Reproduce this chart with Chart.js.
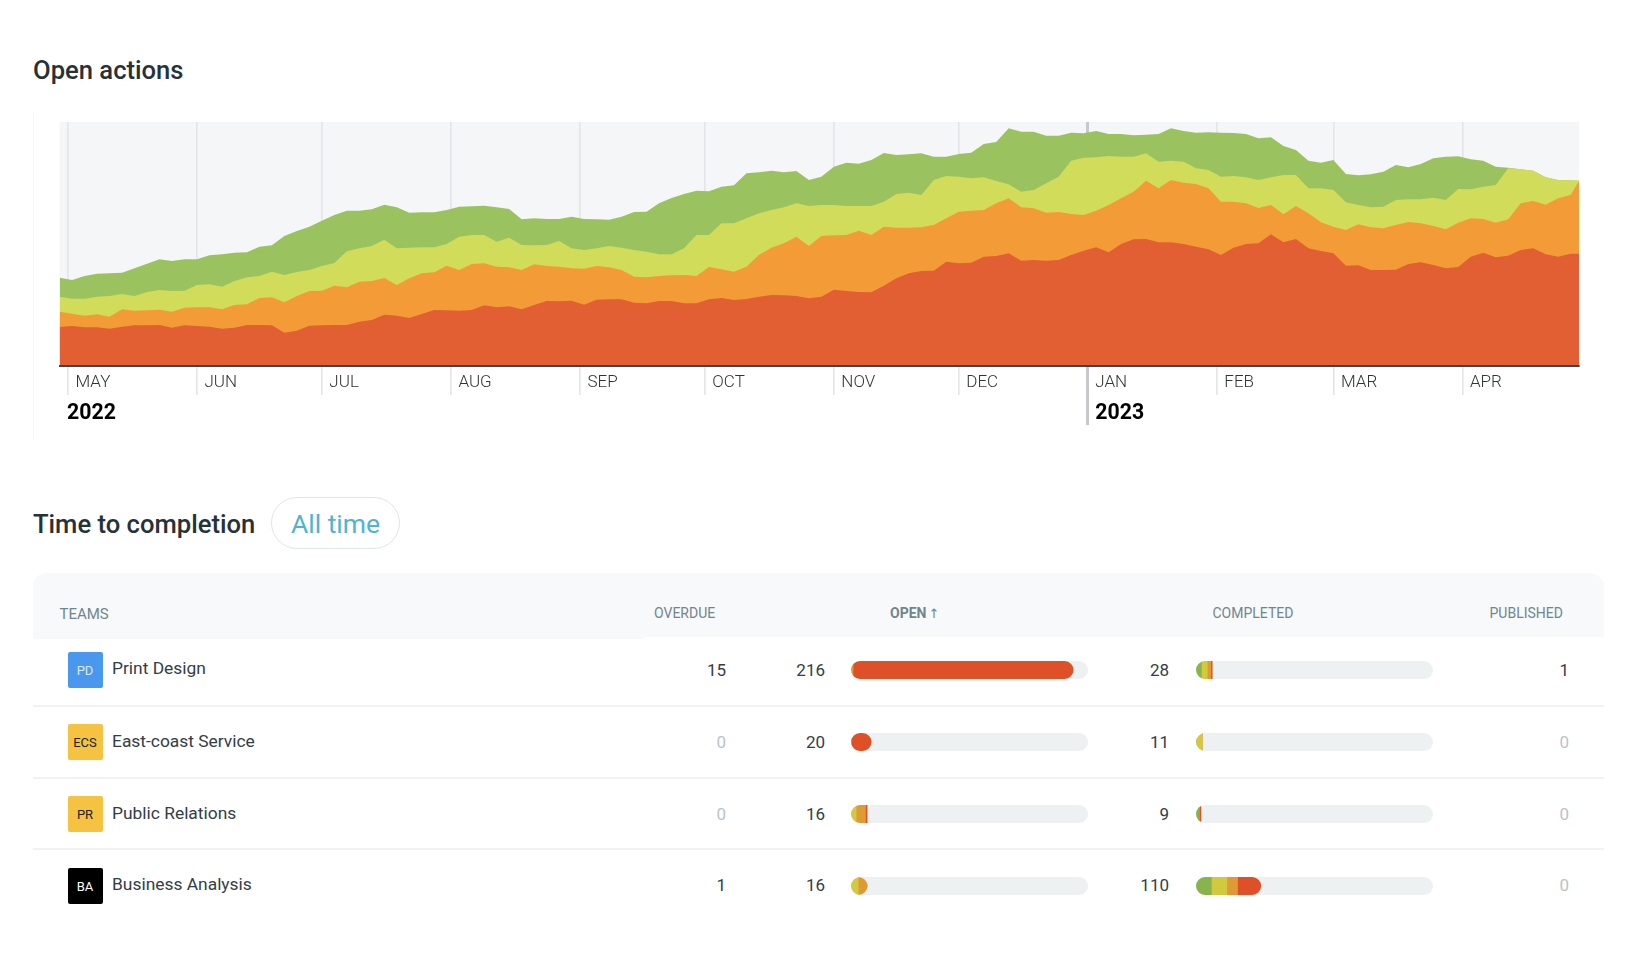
<!DOCTYPE html>
<html>
<head>
<meta charset="utf-8">
<title>Open actions</title>
<script src="https://cdn.jsdelivr.net/npm/chart.js@4/dist/chart.umd.min.js"></script>
<style>
html,body{margin:0;padding:0;background:#fff;width:1635px;height:972px;overflow:hidden;font-family:Roboto,sans-serif;color:#2b3640}
.abs{position:absolute;white-space:nowrap}
canvas{position:absolute;display:block}
.h2{font-size:25.6px;font-weight:500;line-height:30px;color:#263238}
.th{font-size:14px;line-height:16px;color:#71858f}
.num{font-size:17px;line-height:20px;text-align:right;color:#333d47}
.zero{color:#bcc3c7}
.team{font-size:17.4px;line-height:20px;color:#333d47}
.ico{width:35px;height:36px;border-radius:2px;text-align:center;line-height:37px;font-size:13px}
</style>
</head>
<body>
<div class="abs" style="left:33px;top:112px;width:1px;height:328px;background:#f6f7f8"></div>
<div class="abs h2" style="left:33px;top:54.5px">Open actions</div>
<canvas id="area" width="1635" height="430" style="left:0;top:0;width:1635px;height:430px"></canvas>

<div class="abs h2" style="left:33px;top:508.5px">Time to completion</div>
<div class="abs" style="left:271px;top:497px;width:127px;height:50px;border:1px solid #dfe6e8;border-radius:26px;text-align:center;line-height:52px;font-size:26.5px;font-weight:400;color:#4fb3d1">All time</div>

<div class="abs" style="left:33px;top:573px;width:1571px;height:64px;background:#f8f9fb;border-radius:14px 14px 0 0"></div>
<div class="abs" style="left:33px;top:637px;width:612px;height:2px;background:#f8f9fb"></div>
<div class="abs th" style="left:59.5px;top:606px;font-size:15px">TEAMS</div>
<div class="abs th" style="left:654px;top:605px">OVERDUE</div>
<div class="abs th" style="left:890px;top:605px;font-weight:700">OPEN<span style="font-weight:400;font-family:'DejaVu Sans';font-size:13px;margin-left:2px">↑</span></div>
<div class="abs th" style="left:1212.5px;top:605px">COMPLETED</div>
<div class="abs th" style="left:1489.5px;top:605px">PUBLISHED</div>
<div id="rows"></div>
<canvas id="openBars" width="237" height="288" style="left:851px;top:634px;width:237px;height:288px"></canvas>
<canvas id="doneBars" width="237" height="288" style="left:1196px;top:634px;width:237px;height:288px"></canvas>

<script>
// ---------- Open actions (heights of each stacked band's upper edge)
const days = [0,3,6,9,12,15,18,21,24,27,30,33,36,39,42,45,48,51,
 54,57,60,63,66,69,72,75,78,81,84,87,90,93,96,99,102,105,
 108,111,114,117,120,123,126,129,132,135,138,141,144,147,150,153,156,
 159,162,165,168,171,174,177,180,183,186,189,192,195,198,201,204,207,210,
 213,216,219,222,225,228,231,234,237,240,243,246,249,252,255,258,261,264,
 267,270,273,276,279,282,285,288,291,294,297,300,303,306,309,312,315,
 318,321,324,327,330,333,336,339,342,345,348,351,354,357,360,363,365];
const greenTop = [88.3,86,90,92.3,92.7,93.3,97.7,102.3,106.7,105,106.7,106.7,110.7,111.7,113.3,113.7,119.3,120.7,
 130,135,139.3,145.3,151,155.3,155.3,156.7,161.3,158.7,153.3,153.7,153.7,156,159.3,159.7,160.3,158.7,
 157,146.7,147.7,147,147,149.3,147,146.7,146.3,149.3,154,154.3,162.7,168,172,175.3,174.7,
 179.3,180.7,192.7,193.7,195.3,193.7,195,186,189.3,199.3,203.3,202.3,206,213,211,211.7,212.7,209.3,
 209.3,212,213.3,222,224,237.7,234.3,234.3,230.3,230.3,233.3,232.7,235,232,232,230.7,231.3,232,
 237.7,235,233.3,233.7,233.3,233,232,227.7,228.7,220,216,205.3,203.3,206,192,190.7,191.7,
 194.3,201,198.7,202,207.7,209.3,209.7,206.7,205.3,199.3,198.3,196.7,195.3,188.7,186,185.7,185.3];
const yellowTop = [69.3,67.3,67.3,69.3,70,72,70,74,76,75,75.3,81,81.7,79.3,85,88.7,90,94.3,
 91,94,96,100,103,114.7,117.7,120,126.3,117.7,118.3,118.7,118.7,122,129.3,131,131,124.3,
 128.3,121,120.7,121,125,117.7,116,117.7,120,118.3,116,114.3,111.7,111.7,117.7,131,131,
 142.7,142.7,147.7,152.7,156,158.7,162.7,160,161,161,160,160,160,164.3,172,173.3,171,186,
 190,189.3,187.7,188.7,185,181.7,174.3,176,182.7,189.3,205.3,208.3,208.7,210,209.3,209.3,212.7,204.3,
 205.3,204.3,197.7,196,189.3,190,188.7,186,188.7,191,191,177.7,177.7,176,163.7,161,158.7,
 159.3,166,166.7,166.7,168.3,166,177,176.7,179.3,181,197.7,196.7,195.3,188.7,186,185.7,185.3];
const orangeTop = [54.3,52.3,50.3,51.7,49.3,56.7,55.3,55.7,56.3,54.3,58.3,58.7,58.7,56.7,61,61.7,68,68.7,
 63.7,70,75,75.3,80.3,78.7,84.3,85,88,81,87.7,92.7,93.7,100.3,96,102,102.7,99.3,
 98.7,96,101.7,100,99.3,97.7,97.3,100,98.7,96,89.3,88.7,90,90.7,91,90,99,
 96.7,94.3,99.3,111,118.3,122.7,129.3,120,130,130.7,131,135.3,131,139.3,138.3,138.3,138.7,141,
 147.7,154.3,155.3,156,162.7,167.7,158.7,157.7,153.3,154,152,151,155.3,161,167.7,174.3,185.3,177.7,
 186,183.3,182,177.7,164.3,164.3,162.7,158,161,151.7,160,152.7,143.7,139.3,136,141.7,138.7,
 137.7,141,144,142.7,140,136.7,143.3,147.7,147,143.3,146.7,162.7,165,161.3,167.7,171,185];
const redTop = [39,40,38.7,38.7,37.3,39.3,40.7,40.7,41,38.3,40.7,40,39.3,37.3,38.3,41,41,40.7,
 33.3,35.3,40.3,40.7,41,41,44.3,46,51.3,50.3,48,52,56,55.7,55.3,56,60.7,58.7,
 59.7,56.7,61,65,64.7,65.3,61.3,66.3,66.7,66.7,63.3,62.7,65,65,62.7,62.7,66.7,
 68,66,67,69.3,71,70.7,70,67.7,69.3,76.3,75,74,73.7,80.3,87.7,92.7,95,95.3,
 104.3,102.7,103.3,109.3,110,112.7,105.3,106,105.3,106,111,115.3,118.7,113.7,122,126.7,127,123.7,
 123.7,122,119.3,116.7,111,118.3,122,122.7,131.7,123.7,127,117.7,115,112.7,100.3,100.7,96,
 96,96.3,102,103.7,101,97.7,99,109.3,113.3,108.7,110.3,116,117.7,111.7,109.3,112.3,112.3];
const monthDays = [2,33,63,94,125,155,186,216,247,278,306,337];
const monthNames = ['MAY','JUN','JUL','AUG','SEP','OCT','NOV','DEC','JAN','FEB','MAR','APR'];
const yearDays = [0,247];
const yearNames = ['2022','2023'];

// ---------- Time to completion table
const teams = ['Print Design','East-coast Service','Public Relations','Business Analysis'];
const initials = ['PD','ECS','PR','BA'];
const overdue = [15,0,0,1];
const openTotal = [216,20,16,16];
const completedTotal = [28,11,9,110];
const published = [1,0,0,0];
const openYellow = [0,0,5,7];
const openOrange = [2,0,9,9];
const openRed = [214,20,2,0];
const doneGreen = [9,0,5,26];
const doneYellow = [10,11,0,26];
const doneOrange = [6,0,0,18];
const doneRed = [3,0,4,40];

const pts = arr => arr.map((v,i)=>({x:days[i],y:v}));
const area = (label,arr,color) => ({label,data:pts(arr),backgroundColor:color,borderWidth:0,pointRadius:0,fill:'origin',tension:0});

const plotBg = {id:'plotBg',beforeDraw(c){const a=c.chartArea,x=c.ctx;x.save();x.fillStyle='#f5f6f8';x.fillRect(a.left,a.top,a.right-a.left,a.bottom-a.top);x.restore();}};

new Chart(document.getElementById('area'),{
  type:'line',
  data:{datasets:[
    area('Red',redTop,'#e25e33'),
    area('Orange',orangeTop,'#f39c37'),
    area('Yellow',yellowTop,'#d0dc5a'),
    area('Green',greenTop,'#9ac35f')
  ]},
  plugins:[plotBg],
  options:{
    responsive:false,animation:false,devicePixelRatio:1,
    layout:{padding:{left:59.6,right:56,top:122,bottom:5}},
    plugins:{legend:{display:false},tooltip:{enabled:false}},
    scales:{
      y:{display:false,min:0,max:244},
      x:{type:'linear',position:'bottom',weight:0,min:0,max:365,
        afterBuildTicks:s=>{s.ticks=monthDays.map(value=>({value}));},
        afterFit:s=>{s.height=29;},
        border:{color:'#3b4252',width:2,z:1},
        grid:{
          color:c=>monthDays[c.index]===247?'#c5c8cc':'#e3e5e8',
          lineWidth:c=>monthDays[c.index]===247?3:1.6,
          tickLength:29,drawTicks:true,drawOnChartArea:true
        },
        ticks:{autoSkip:false,maxRotation:0,align:'start',labelOffset:7.5,padding:-22,color:'#333',
          font:{family:'Roboto',size:17,weight:'300'},
          callback:v=>monthNames[monthDays.indexOf(v)]}
      },
      x2:{type:'linear',position:'bottom',weight:1,min:0,max:365,
        afterBuildTicks:s=>{s.ticks=yearDays.map(value=>({value}));},
        afterFit:s=>{s.height=30;},
        border:{display:false},
        grid:{drawOnChartArea:false,drawTicks:true,tickLength:30,
          color:c=>c.index===1?'#c5c8cc':'rgba(0,0,0,0)',lineWidth:3},
        ticks:{autoSkip:false,maxRotation:0,align:'start',labelOffset:7.5,padding:-24,color:'#000',
          font:{family:'Roboto',size:21.3,weight:'700'},
          callback:v=>yearNames[yearDays.indexOf(v)]}
      }
    }
  }
});

// ---------- DOM rows
const rowCenter = [670,741.8,813.6,885.5];
const textCenter = [670,741.5,813.5,884.7];
const teamCenter = [669.7,742.3,814,885.7];
const rowLine = [706,777.5,849];
const iconCol = ['#4a98ee','#f5c242','#f5c242','#000'];
const iconTxt = ['#dbe9fb','#222','#222','#fff'];
const rowsEl = document.getElementById('rows');
function put(html){rowsEl.insertAdjacentHTML('beforeend',html);}
rowLine.forEach(y=>put(`<div class="abs" style="left:33px;top:${y-1}px;width:1571px;height:2px;background:#f0f2f4"></div>`));
function numCell(v,right,y){put(`<div class="abs num ${v===0?'zero':''}" style="right:${1635-right}px;top:${y-10}px">${v}</div>`);}
teams.forEach((t,i)=>{
  const y=textCenter[i];
  put(`<div class="abs ico" style="left:67.5px;top:${rowCenter[i]-18}px;background:${iconCol[i]};color:${iconTxt[i]}">${initials[i]}</div>`);
  put(`<div class="abs team" style="left:112px;top:${teamCenter[i]-11.5}px">${t}</div>`);
  numCell(overdue[i],726,y);
  numCell(openTotal[i],825,y);
  numCell(completedTotal[i],1169,y);
  numCell(published[i],1569,y);
});

// ---------- stacked progress bars
const TRACK_R = 9;
const barShape = {
  id:'barShape',
  beforeDatasetsDraw(c){
    const x=c.ctx,sx=c.scales.x,sy=c.scales.y,h=18;
    const L=sx.getPixelForValue(sx.min),R=sx.getPixelForValue(sx.max);
    x.save();
    x.fillStyle='#eef1f2';
    const tracks=new Path2D(),ends=new Path2D();
    sy.ticks.forEach((t,i)=>{
      const cy=sy.getPixelForTick(i);
      x.beginPath();x.roundRect(L,cy-h/2,R-L,h,TRACK_R);x.fill();
      tracks.roundRect(L,cy-h/2,R-L,h,TRACK_R);
      const total=c.data.datasets.reduce((a,d)=>a+d.data[i],0);
      const last=[...c.data.datasets].reverse().find(d=>d.data[i]>0).data[i];
      const w=sx.getPixelForValue(total)-L;
      const lastW=sx.getPixelForValue(last)-L;
      const r=lastW>=8?TRACK_R:0;
      ends.roundRect(L-TRACK_R,cy-h/2,w+TRACK_R,h,[0,r,r,0]);
    });
    x.clip(tracks);x.clip(ends);
  },
  afterDatasetsDraw(c){c.ctx.restore();}
};
const seg = (d,color)=>({data:d,backgroundColor:color,borderWidth:0,barThickness:18});
const barOpts = max=>({
  indexAxis:'y',responsive:false,animation:false,devicePixelRatio:1,
  layout:{padding:0},
  plugins:{legend:{display:false},tooltip:{enabled:false}},
  scales:{
    x:{display:false,stacked:true,min:0,max},
    y:{display:false,stacked:true}
  }
});
const C_GREEN='#88b44e',C_YELLOW='#d3c93f',C_ORANGE='#df9a35',C_RED='#de5028';
new Chart(document.getElementById('openBars'),{type:'bar',
  data:{labels:teams,datasets:[seg(openYellow,C_YELLOW),seg(openOrange,C_ORANGE),seg(openRed,C_RED)]},
  plugins:[barShape],options:barOpts(230)});
new Chart(document.getElementById('doneBars'),{type:'bar',
  data:{labels:teams,datasets:[seg(doneGreen,C_GREEN),seg(doneYellow,C_YELLOW),seg(doneOrange,C_ORANGE),seg(doneRed,C_RED)]},
  plugins:[barShape],options:barOpts(400)});
</script>
</body>
</html>
